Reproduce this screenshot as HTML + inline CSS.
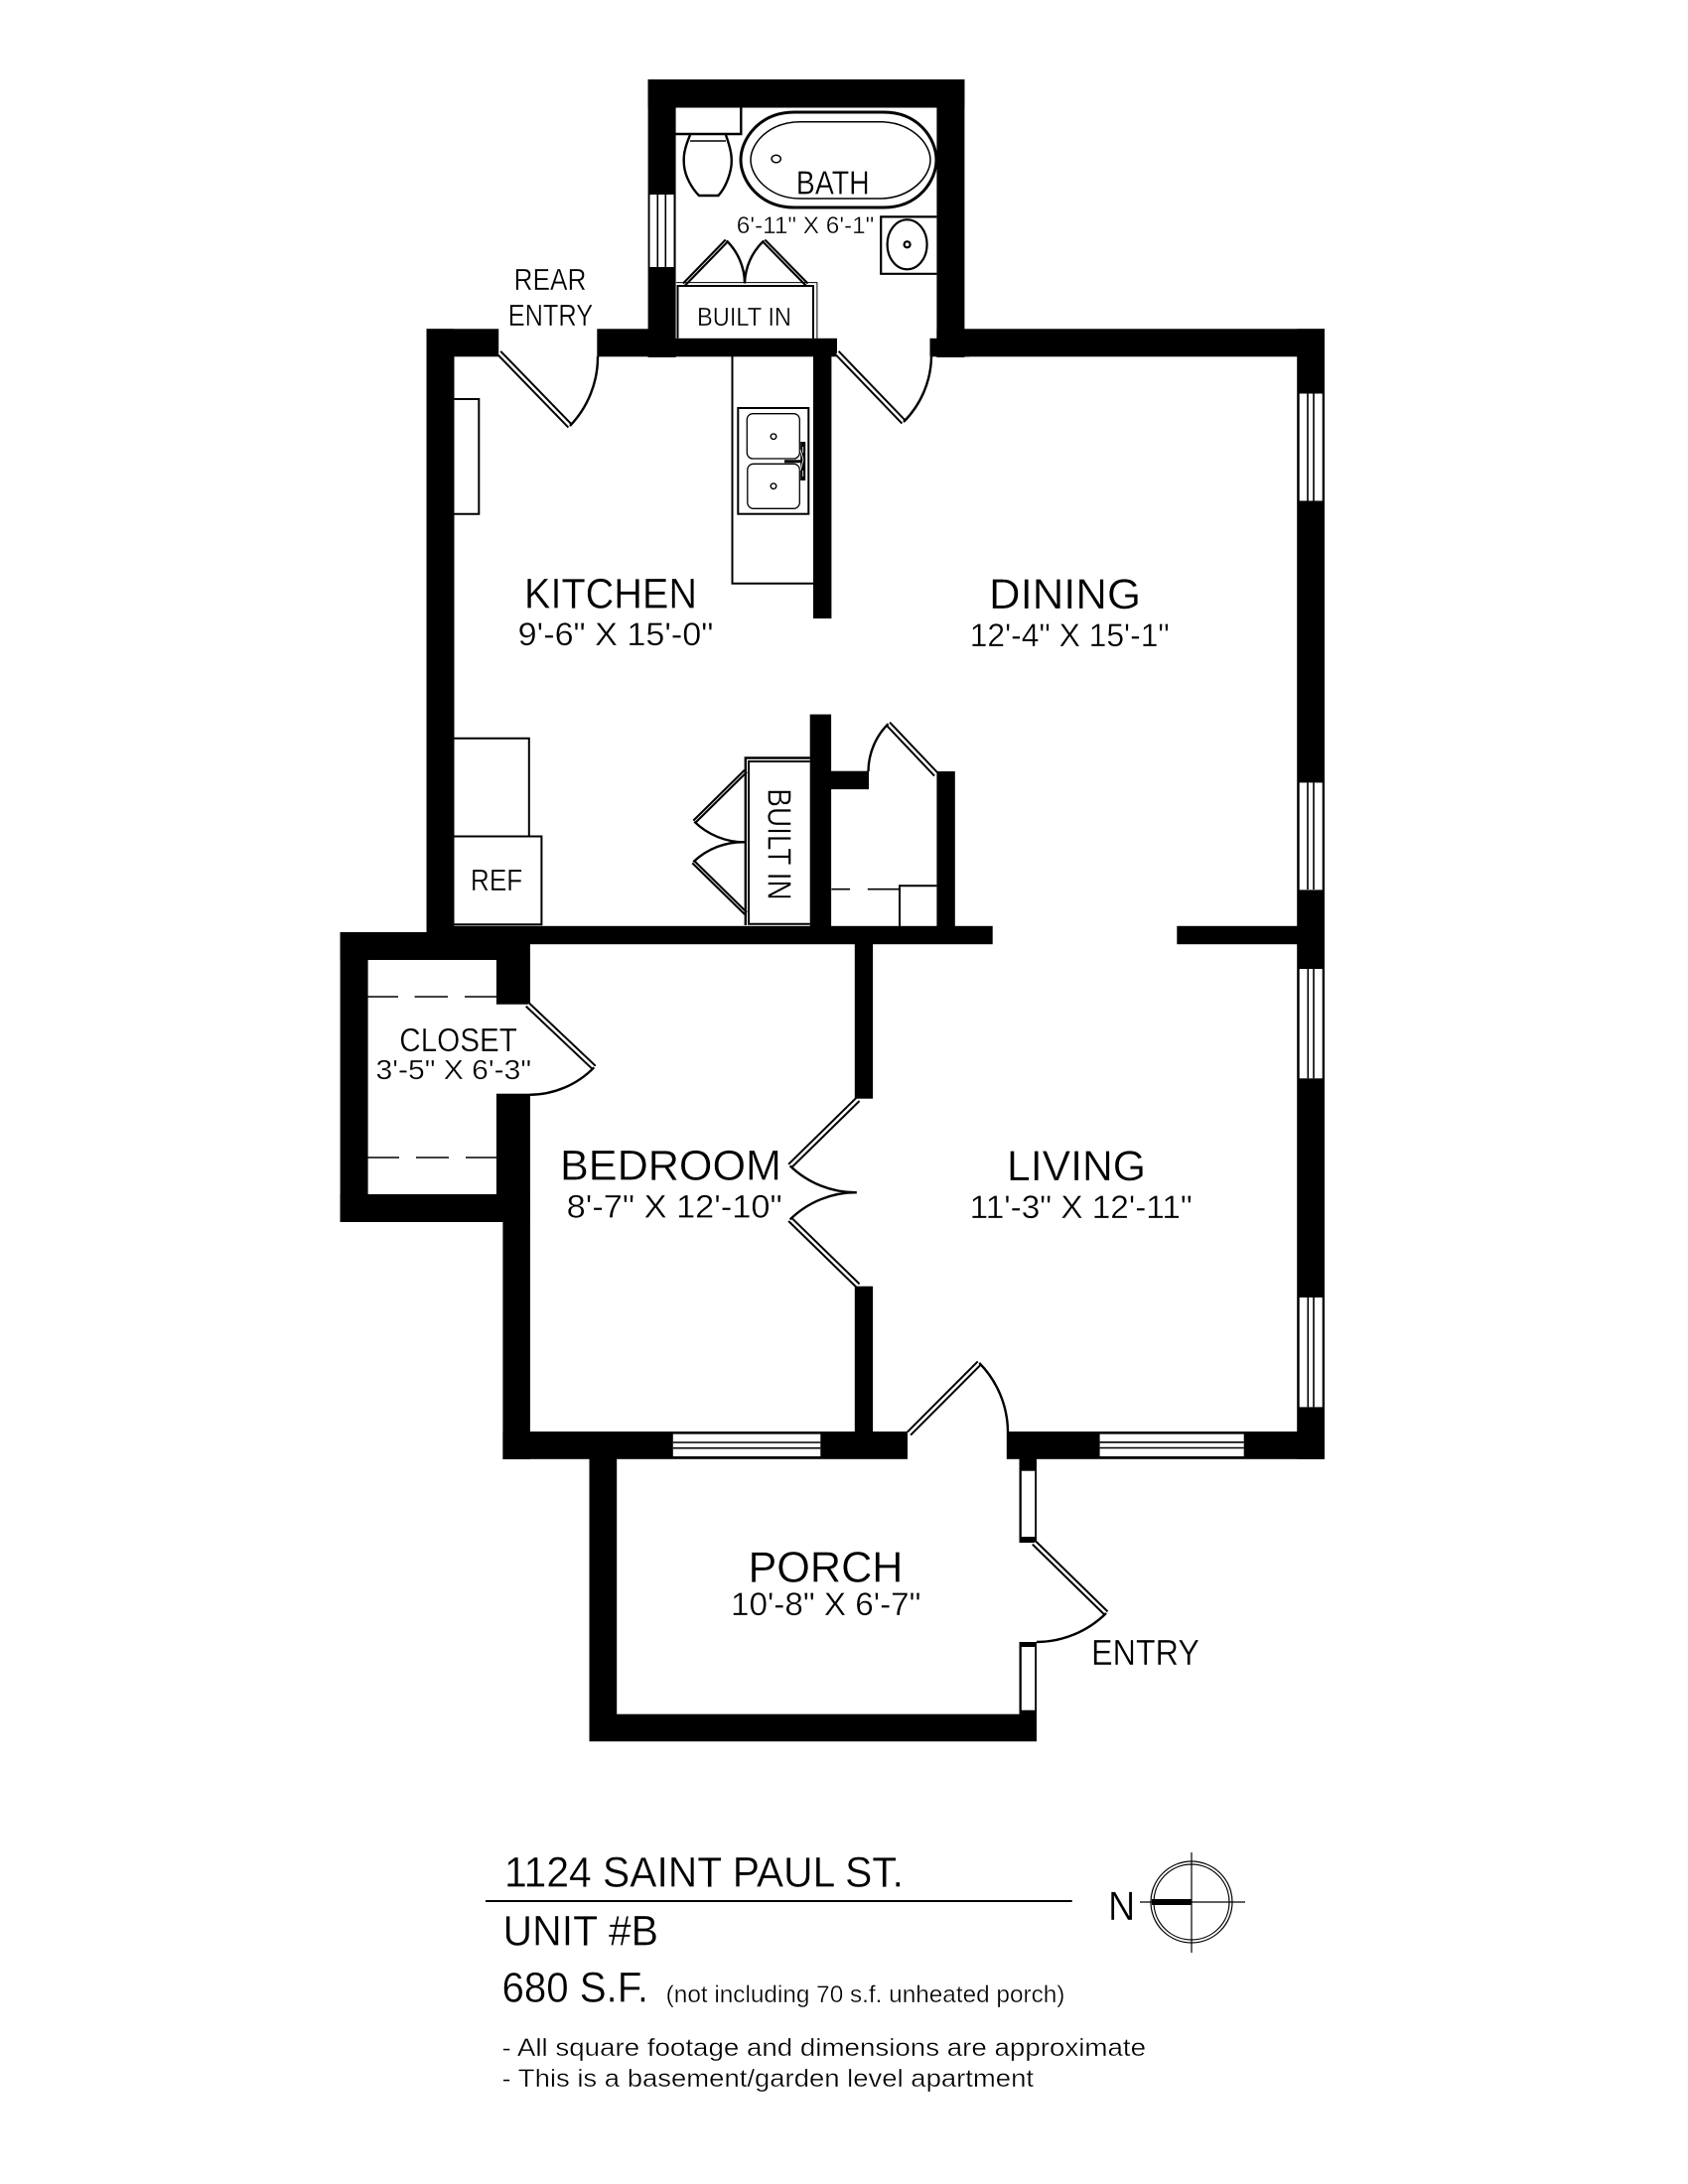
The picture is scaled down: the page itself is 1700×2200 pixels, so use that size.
<!DOCTYPE html>
<html>
<head>
<meta charset="utf-8">
<style>
html,body{margin:0;padding:0;background:#fff;}
svg{display:block;}
text{font-family:"Liberation Sans",sans-serif;fill:#000;stroke:#fff;stroke-width:.35px;}
.o{fill:none;stroke:#000;stroke-width:2;}
.a{fill:none;stroke:#000;stroke-width:2.4;}
.db{fill:none;stroke:#000;stroke-width:6.5;}
.dw{fill:none;stroke:#fff;stroke-width:2.5;}
.l{stroke:#000;stroke-width:1.6;fill:none;}
</style>
</head>
<body>
<svg width="1700" height="2200" viewBox="0 0 1700 2200" xmlns="http://www.w3.org/2000/svg">
<rect width="1700" height="2200" fill="#fff"/>

<!-- walls -->
<g fill="#000">
<rect x="652.6" y="80" width="318.8" height="28.5"/>
<rect x="652.6" y="80" width="28" height="280"/>
<rect x="943.4" y="80" width="28" height="280"/>
<rect x="429.5" y="331.3" width="72.7" height="28"/>
<rect x="601.3" y="331.3" width="60" height="28"/>
<rect x="652.6" y="340.8" width="190.4" height="18.5"/>
<rect x="936.5" y="340.8" width="40" height="18.5"/>
<rect x="943.4" y="331.3" width="390.6" height="28"/>
<rect x="429.5" y="331.3" width="28" height="620"/>
<rect x="819" y="359" width="18.4" height="264"/>
<rect x="815.7" y="719.6" width="21.4" height="215"/>
<rect x="837" y="776.7" width="38" height="18.4"/>
<rect x="943.4" y="777" width="18.4" height="158"/>
<rect x="429.5" y="932.8" width="570.2" height="18.4"/>
<rect x="1185.3" y="932.8" width="125" height="18.4"/>
<rect x="342.6" y="939" width="157.4" height="28"/>
<rect x="342.6" y="939" width="28" height="292"/>
<rect x="342.6" y="1203" width="163.8" height="28"/>
<rect x="499.9" y="945" width="34" height="66.7"/>
<rect x="499.9" y="1101.7" width="34" height="129.3"/>
<rect x="506.4" y="1203" width="27.5" height="267"/>
<rect x="506.4" y="1442" width="407.6" height="27.8"/>
<rect x="860.8" y="945" width="18.3" height="161.7"/>
<rect x="860.8" y="1295.7" width="18.3" height="150"/>
<rect x="1013.8" y="1442" width="320.2" height="27.8"/>
<rect x="1306.2" y="331.3" width="27.8" height="1138.5"/>
<rect x="593.5" y="1465" width="27.7" height="289"/>
<rect x="593.5" y="1726.7" width="450.5" height="27.5"/>
<rect x="1026.5" y="1465" width="17.5" height="89"/>
<rect x="1026.5" y="1654" width="17.5" height="100"/>
</g>

<!-- windows -->
<rect x="654.5" y="196" width="24" height="73" fill="#fff"/>
<path class="l" d="M662.3 196V269M670.3 196V269"/>
<g fill="#fff">
<rect x="1308.7" y="396.5" width="23" height="108"/>
<rect x="1308.7" y="788.4" width="23" height="108"/>
<rect x="1308.7" y="976" width="23" height="110.3"/>
<rect x="1308.7" y="1307" width="23" height="110.4"/>
<rect x="677.8" y="1444.6" width="148.5" height="22.4"/>
<rect x="1107.6" y="1444.6" width="145.1" height="22.4"/>
<rect x="1028.8" y="1481.7" width="13.4" height="66.3"/>
<rect x="1028.8" y="1659" width="13.4" height="63.7"/>
</g>
<path class="l" d="M1317 396.5V504.5M1323 396.5V504.5M1317 788.4V896M1323 788.4V896M1317.3 976V1086.3M1323 976V1086.3M1317.3 1307V1417.4M1323 1307V1417.4"/>
<path class="l" d="M677.8 1453H826.3M677.8 1458.7H826.3M1107.6 1452.8H1252.7M1107.6 1458.5H1252.7"/>

<!-- doors -->
<path class="db" d="M502.6 355.4L574 429"/><path class="dw" d="M502.6 355.4L574 429"/>
<path class="a" d="M574 429A100 100 0 0 0 602 359"/>
<path class="db" d="M843 355.4L910 425"/><path class="dw" d="M843 355.4L910 425"/>
<path class="a" d="M910 425A95 95 0 0 0 938 359"/>
<path class="db" d="M689 286.5L731.8 242.5" style="stroke-width:5"/><path class="dw" d="M689 286.5L731.8 242.5" style="stroke-width:.8"/>
<path class="a" d="M731.8 242.5A61 61 0 0 1 750 285.4"/>
<path class="db" d="M812.5 286.5L769.3 242.5" style="stroke-width:5"/><path class="dw" d="M812.5 286.5L769.3 242.5" style="stroke-width:.8"/>
<path class="a" d="M769.3 242.5A61 61 0 0 0 750 285.4"/>
<path class="db" d="M751 776.7L699.3 827.7" style="stroke-width:5"/><path class="dw" d="M751 776.7L699.3 827.7" style="stroke-width:.8"/>
<path class="a" d="M699.3 827.7A72 72 0 0 0 751 848.3"/>
<path class="db" d="M751 920L698.3 868.3" style="stroke-width:5"/><path class="dw" d="M751 920L698.3 868.3" style="stroke-width:.8"/>
<path class="a" d="M698.3 868.3A72 72 0 0 1 751 848.3"/>
<path class="db" d="M942.7 780L894.5 729.2"/><path class="dw" d="M942.7 780L894.5 729.2"/>
<path class="a" d="M894.5 729.2A68 68 0 0 0 874.5 777"/>
<path class="db" d="M531.3 1012L598.2 1075.3"/><path class="dw" d="M531.3 1012L598.2 1075.3"/>
<path class="a" d="M598.2 1075.3A91 91 0 0 1 533 1102.8"/>
<path class="db" d="M864 1107.4L795.7 1174.4"/><path class="dw" d="M864 1107.4L795.7 1174.4"/>
<path class="a" d="M795.7 1174.4A95 95 0 0 0 862.7 1201.2"/>
<path class="db" d="M864 1295L795.7 1228.4"/><path class="dw" d="M864 1295L795.7 1228.4"/>
<path class="a" d="M795.7 1228.4A95 95 0 0 1 862.7 1201.2"/>
<path class="db" d="M915.5 1444L986.3 1373"/><path class="dw" d="M915.5 1444L986.3 1373"/>
<path class="a" d="M986.3 1373A100 100 0 0 1 1015 1442"/>
<path class="db" d="M1041.4 1554L1114 1625"/><path class="dw" d="M1041.4 1554L1114 1625"/>
<path class="a" d="M1114 1625A100 100 0 0 1 1044 1654"/>

<!-- closet dashes -->
<path class="l" d="M370.5 1004H401M417.6 1004H451M468 1004H500M370.5 1166H402M419 1166H452M469 1166H500"/>

<!-- kitchen fixtures -->
<path class="o" d="M737.5 359V587.7H819"/>
<rect class="o" x="743.3" y="411" width="71" height="106.7"/>
<rect x="752.3" y="416.7" width="53" height="45.3" rx="6" fill="none" stroke="#000" stroke-width="1.3"/>
<rect x="752.8" y="467.3" width="52.5" height="45" rx="6" fill="none" stroke="#000" stroke-width="1.3"/>
<circle cx="779" cy="439.7" r="2.8" fill="none" stroke="#000" stroke-width="1.4"/>
<circle cx="779" cy="489.7" r="2.8" fill="none" stroke="#000" stroke-width="1.4"/>
<path d="M790 464.7H808" stroke="#000" stroke-width="3"/>
<path d="M808.7 445V484" stroke="#000" stroke-width="5"/>
<path d="M806 453L809 463L806 474M808.7 450V456M808.7 474V480" stroke="#fff" stroke-width=".8" fill="none"/>
<path class="o" d="M457.4 402H482.3V517.7H457.4"/>
<path class="o" d="M457.4 743.8H532.8V842.5"/>
<path class="o" d="M457.4 842.5H545.4V931.3H457.4"/>
<path d="M815.7 763.5H750.8V932" fill="none" stroke="#000" stroke-width="2.4"/>
<path class="o" d="M815.7 767H754V930.7H815.7"/>
<path class="l" d="M837.4 895.7H856M873.8 895.7H906"/>
<path class="o" d="M906 933V892.2H943.4"/>

<!-- bath fixtures -->
<path class="o" d="M680.5 135H746.3V108.5" style="stroke-width:2.4"/>
<path d="M695 136C689 150 688 158 689 167C690 178 697 190 704 197H723.4C730 190 735 178 736.5 167C737.5 158 736 150 731 136" fill="none" stroke="#000" stroke-width="2.4"/>
<path d="M695 142H731" stroke="#000" stroke-width="1.5"/>
<path d="M800 113H890C925 113 943 140 943 161C943 182 925 209 890 209H800C765 209 746 182 746 161C746 140 765 113 800 113Z" fill="none" stroke="#000" stroke-width="3"/>
<path d="M806 122.7H886C917 122.7 937 144 937 161C937 178 917 200 886 200H806C775 200 756 178 756 161C756 144 775 122.7 806 122.7Z" fill="none" stroke="#000" stroke-width="1.5"/>
<ellipse cx="781.7" cy="160" rx="4.6" ry="3.8" fill="none" stroke="#000" stroke-width="1.5"/>
<path class="o" d="M943.4 218.4H887.2V275.8H943.4" style="stroke-width:2.2"/>
<ellipse cx="913.6" cy="246.3" rx="20" ry="25" fill="none" stroke="#000" stroke-width="2.2"/>
<circle cx="913.6" cy="246.3" r="3" fill="none" stroke="#000" stroke-width="2.2"/>
<path d="M681 284.6H822.9V340.8" fill="none" stroke="#000" stroke-width="1"/>
<path class="o" d="M682.5 340.8V288H819V340.8"/>

<!-- labels -->
<text x="801.8" y="195.4" font-size="33" textLength="74" lengthAdjust="spacingAndGlyphs">BATH</text>
<text x="741.8" y="234.8" font-size="24" textLength="138.5" lengthAdjust="spacingAndGlyphs">6'-11" X 6'-1"</text>
<text x="702" y="328.2" font-size="26" textLength="95" lengthAdjust="spacingAndGlyphs">BUILT IN</text>
<text x="517.5" y="292.2" font-size="31" textLength="73" lengthAdjust="spacingAndGlyphs">REAR</text>
<text x="511.7" y="328.2" font-size="31" textLength="85.5" lengthAdjust="spacingAndGlyphs">ENTRY</text>
<text x="528" y="612.6" font-size="43" textLength="174" lengthAdjust="spacingAndGlyphs">KITCHEN</text>
<text x="521.7" y="650" font-size="32" textLength="196.7" lengthAdjust="spacingAndGlyphs">9'-6" X 15'-0"</text>
<text x="996" y="613" font-size="43" textLength="153" lengthAdjust="spacingAndGlyphs">DINING</text>
<text x="976.7" y="650.8" font-size="32" textLength="201" lengthAdjust="spacingAndGlyphs">12'-4" X 15'-1"</text>
<text x="473.9" y="897" font-size="31" textLength="52.4" lengthAdjust="spacingAndGlyphs">REF</text>
<text transform="translate(773.3,794.3) rotate(90)" font-size="33" textLength="112.4" lengthAdjust="spacingAndGlyphs">BUILT IN</text>
<text x="402.3" y="1058.8" font-size="33" textLength="118.6" lengthAdjust="spacingAndGlyphs">CLOSET</text>
<text x="378.5" y="1086.8" font-size="28" textLength="156.5" lengthAdjust="spacingAndGlyphs">3'-5" X 6'-3"</text>
<text x="564" y="1188.5" font-size="43" textLength="223" lengthAdjust="spacingAndGlyphs">BEDROOM</text>
<text x="570.7" y="1226.4" font-size="32" textLength="217" lengthAdjust="spacingAndGlyphs">8'-7" X 12'-10"</text>
<text x="1014" y="1188.8" font-size="43" textLength="140" lengthAdjust="spacingAndGlyphs">LIVING</text>
<text x="976.7" y="1226.8" font-size="32" textLength="224" lengthAdjust="spacingAndGlyphs">11'-3" X 12'-11"</text>
<text x="753.5" y="1593.3" font-size="44" textLength="156" lengthAdjust="spacingAndGlyphs">PORCH</text>
<text x="736" y="1627" font-size="32" textLength="191.4" lengthAdjust="spacingAndGlyphs">10'-8" X 6'-7"</text>
<text x="1099" y="1677" font-size="36" textLength="109" lengthAdjust="spacingAndGlyphs">ENTRY</text>

<!-- footer -->
<text x="508" y="1900.5" font-size="43" textLength="402" lengthAdjust="spacingAndGlyphs">1124 SAINT PAUL ST.</text>
<path d="M489 1915H1079.7" stroke="#000" stroke-width="2"/>
<text x="506.5" y="1959.5" font-size="43" textLength="156.5" lengthAdjust="spacingAndGlyphs">UNIT #B</text>
<text x="505.5" y="2016.5" font-size="43" textLength="147.5" lengthAdjust="spacingAndGlyphs">680 S.F.</text>
<text x="670.7" y="2017" font-size="24" textLength="401.7" lengthAdjust="spacingAndGlyphs">(not including 70 s.f. unheated porch)</text>
<text x="505.5" y="2071" font-size="25" textLength="648.5" lengthAdjust="spacingAndGlyphs">- All square footage and dimensions are approximate</text>
<text x="505.5" y="2102" font-size="25" textLength="535.5" lengthAdjust="spacingAndGlyphs">- This is a basement/garden level apartment</text>
<text x="1116" y="1934" font-size="41" textLength="27.2" lengthAdjust="spacingAndGlyphs">N</text>

<!-- compass -->
<circle cx="1200" cy="1916" r="41" fill="none" stroke="#000" stroke-width="1.2"/>
<circle cx="1200" cy="1916" r="38" fill="none" stroke="#000" stroke-width="1.2"/>
<path d="M1148 1916H1254M1200 1866V1967" stroke="#000" stroke-width="1.2" fill="none"/>
<rect x="1160" y="1913" width="40" height="6" fill="#000"/>
</svg>
</body>
</html>
